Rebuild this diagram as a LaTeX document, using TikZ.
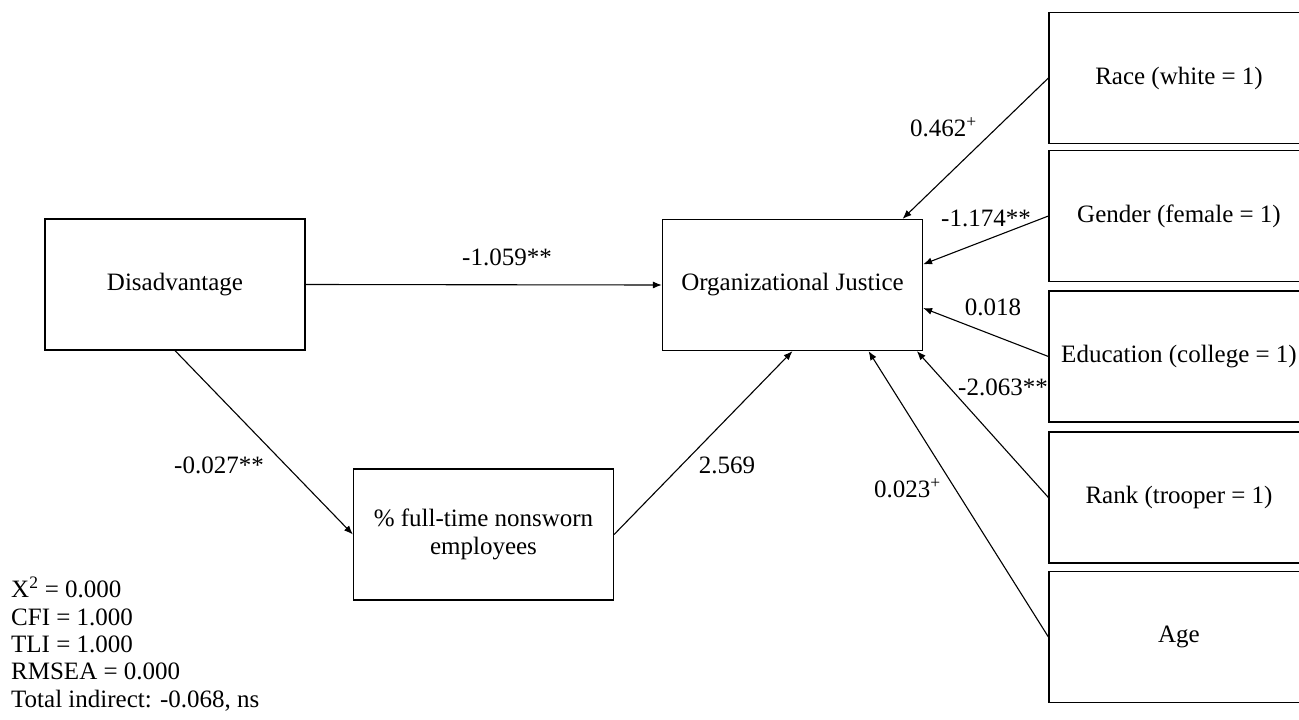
\documentclass[tikz,border=0pt]{standalone}
\usepackage{fontspec}
\setmainfont{Liberation Serif}
\usetikzlibrary{arrows.meta}
\tikzset{
  box/.style={draw=black, line width=1.2pt, minimum width=260pt, minimum height=131pt, inner sep=2pt, font=\fontsize{25}{30}\selectfont, align=center},
  conn/.style={line width=1.1pt, -{Latex[length=9pt,width=7pt]}},
  lab/.style={inner sep=0pt, font=\fontsize{25}{30}\selectfont},
}
\begin{document}
\begin{tikzpicture}[x=1pt,y=-1pt]
\useasboundingbox (0,0) rectangle (1299,720);
\clip (0,0) rectangle (1299,720);
% main boxes
\node[box] (dis) at (175,284.5) {Disadvantage};
\node[box] (oj) at (792.5,285) {Organizational Justice};
\node[box, font=\fontsize{25}{28}\selectfont] (pct) at (483.5,534.5) {\% full-time nonsworn\\employees};
% control boxes (extend past right edge)
\node[box] (race) at (1179,78) {Race (white = 1)};
\node[box] (gender) at (1179,216) {Gender (female = 1)};
\node[box] (edu) at (1179,356.5) {Education (college = 1)};
\node[box] (rank) at (1179,497.5) {Rank (trooper = 1)};
\node[box] (age) at (1179,637) {Age};
% connectors
\draw[conn] (dis.east) -- (oj.west);
\draw[conn] (dis.south) -- (pct.west);
\draw[conn] (pct.east) -- (oj.south);
\draw[conn] (race.west) -- (oj.31);
\draw[conn] (gender.west) -- (oj.9);
\draw[conn] (edu.west) -- (oj.-10);
\draw[conn] (rank.west) -- (oj.-28);
\draw[conn] (age.west) -- (oj.-41.5);
% labels
\node[lab] (l1) at (507,257) {-1.059**};
\node[lab] (l2) at (219,465) {-0.027**};
\node[lab] (l3) at (727,465) {2.569};
\node[lab, anchor=west] (l4) at (910,127) {0.462\textsuperscript{+}};
\node[lab] (l5) at (986,218) {-1.174**};
\node[lab] (l6) at (993,307) {0.018};
\node[lab] (l7) at (1003,387) {-2.063**};
\node[lab, anchor=west] (l8) at (874,488) {0.023\textsuperscript{+}};
% fit statistics
\node[lab, anchor=base west, align=left, font=\fontsize{25}{27.3}\selectfont] (stats) at (11,707)
 {X\textsuperscript{2} = 0.000\\CFI = 1.000\\TLI = 1.000\\RMSEA = 0.000\\Total indirect: -0.068, ns};
\end{tikzpicture}
\end{document}
